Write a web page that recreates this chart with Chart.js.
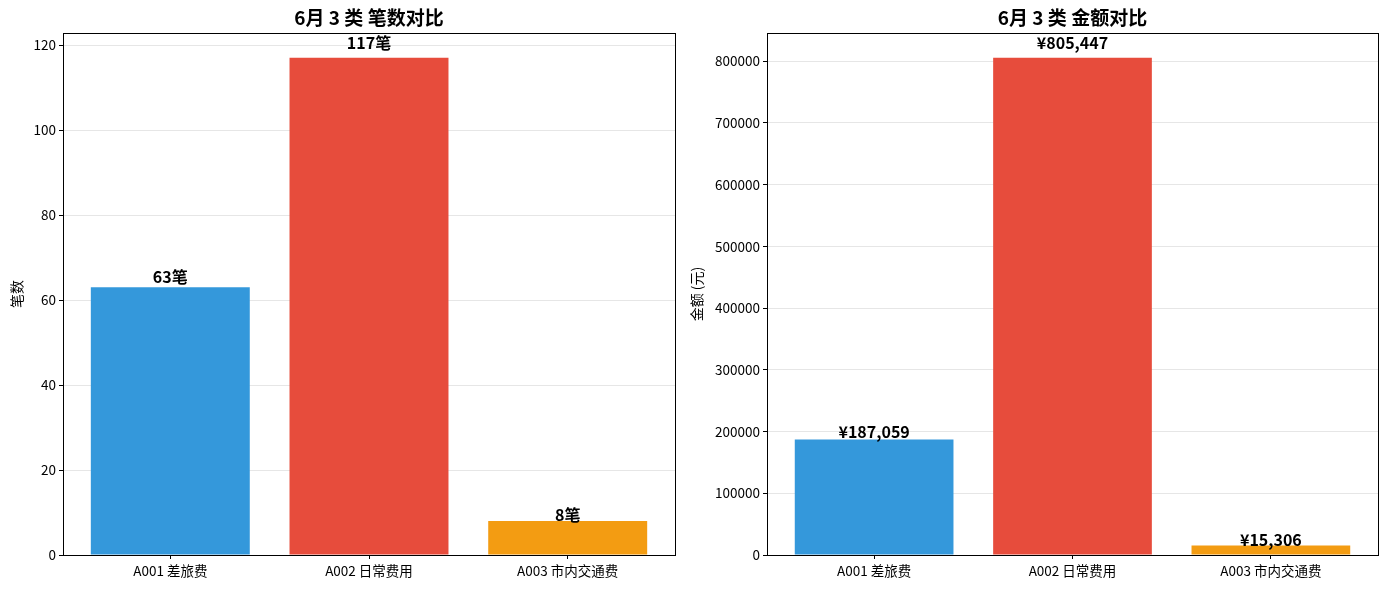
<!DOCTYPE html>
<html>
<head>
<meta charset="utf-8">
<script src="https://cdn.jsdelivr.net/npm/chart.js@4.4.1/dist/chart.umd.min.js"></script>
<style>
  html, body { margin: 0; padding: 0; background: #fff; }
  body { width: 1389px; height: 589px; position: relative; overflow: hidden; }
  canvas { position: absolute; top: 0; }
</style>
</head>
<body>
<canvas id="count-chart" width="694" height="589" style="left:0"></canvas>
<canvas id="amount-chart" width="709" height="589" style="left:680px"></canvas>
<script>
// Data
const categories = ["A001 差旅费", "A002 日常费用", "A003 市内交通费"];
const counts = [63, 117, 8];
const amounts = [187059, 805447, 15306];
const barColors = ["#3498db", "#e74c3c", "#f39c12"];
const countTicks = [0, 20, 40, 60, 80, 100, 120];
const amountTicks = [0, 100000, 200000, 300000, 400000, 500000, 600000, 700000, 800000];

const FONT = "'Noto Sans CJK SC', 'Noto Sans', sans-serif";

// Draws title, y label, spines and value labels the way matplotlib does
const decorations = {
  id: "decorations",
  afterDatasetsDraw(chart, args, opts) {
    const { ctx, chartArea } = chart;
    const yScale = chart.scales.y;
    ctx.save();

    // spines
    ctx.strokeStyle = "#000";
    ctx.lineWidth = 1;
    ctx.strokeRect(
      Math.round(chartArea.left) + 0.5,
      Math.round(chartArea.top) + 0.5,
      Math.round(chartArea.right - chartArea.left),
      Math.round(chartArea.bottom - chartArea.top),
    );

    // value labels, sitting just above value * 1.02
    ctx.fillStyle = "#000";
    ctx.font = `bold 16px ${FONT}`;
    ctx.textAlign = "center";
    ctx.textBaseline = "middle";
    const meta = chart.getDatasetMeta(0);
    meta.data.forEach((bar, i) => {
      const v = opts.values[i];
      const y = yScale.getPixelForValue(v * 1.02) - 5;
      ctx.fillText(opts.format(v), bar.x, y);
    });

    // title
    ctx.font = `bold 19px ${FONT}`;
    ctx.fillText(opts.title, (chartArea.left + chartArea.right) / 2, 18);

    // y axis label
    ctx.font = `14px ${FONT}`;
    ctx.translate(17, (chartArea.top + chartArea.bottom) / 2);
    ctx.rotate(-Math.PI / 2);
    ctx.fillText(opts.ylabel, 0, 0);

    ctx.restore();
  },
};

function makeBarChart(canvasId, values, cfg) {
  const ctx = document.getElementById(canvasId).getContext("2d");
  return new Chart(ctx, {
    type: "bar",
    data: {
      datasets: [
        {
          data: values.map((v, i) => ({ x: i, y: v })),
          backgroundColor: barColors,
          borderWidth: 0,
          inflateAmount: 0,
          barPercentage: 0.8,
          categoryPercentage: 1,
        },
      ],
    },
    options: {
      responsive: false,
      animation: false,
      devicePixelRatio: 1,
      layout: {
        padding: { top: 33, left: 0, right: cfg.padRight, bottom: 0 },
      },
      plugins: {
        legend: { display: false },
        tooltip: { enabled: false },
        title: { display: false },
        decorations: {
          title: cfg.title,
          ylabel: cfg.ylabel,
          values: values,
          format: cfg.format,
        },
      },
      scales: {
        x: {
          type: "linear",
          offset: false,
          min: -0.54,
          max: 2.54,
          afterBuildTicks(scale) {
            scale.ticks = categories.map((c, i) => ({ value: i }));
          },
          afterFit(scale) {
            scale.height = 34;
          },
          grid: {
            offset: false,
            drawOnChartArea: false,
            tickColor: "#000",
            tickLength: 4,
          },
          border: { display: false },
          ticks: {
            color: "#000",
            font: { family: FONT, size: 13.5 },
            padding: 4,
            maxRotation: 0,
            autoSkip: false,
            callback: (v) => categories[v],
          },
        },
        y: {
          min: 0,
          max: cfg.yMax,
          afterBuildTicks(scale) {
            scale.ticks = cfg.ticks.map((v) => ({ value: v }));
          },
          afterFit(scale) {
            scale.width = cfg.plotLeft;
          },
          grid: {
            color: "#e6e6e6",
            tickColor: "#000",
            tickLength: 4,
          },
          border: { display: false },
          ticks: {
            color: "#000",
            font: { family: FONT, size: 13.5 },
            padding: 3,
            autoSkip: false,
            callback: (v) => String(v),
          },
        },
      },
    },
    plugins: [decorations],
  });
}

makeBarChart("count-chart", counts, {
  title: "6月 3 类 笔数对比",
  ylabel: "笔数",
  yMax: Math.max(...counts) * 1.05,
  ticks: countTicks,
  plotLeft: 63,
  padRight: 19,
  format: (v) => `${v}笔`,
});

makeBarChart("amount-chart", amounts, {
  title: "6月 3 类 金额对比",
  ylabel: "金额 (元)",
  yMax: Math.max(...amounts) * 1.05,
  ticks: amountTicks,
  plotLeft: 87,
  padRight: 11,
  format: (v) => `¥${v.toLocaleString("en-US")}`,
});
</script>
</body>
</html>
